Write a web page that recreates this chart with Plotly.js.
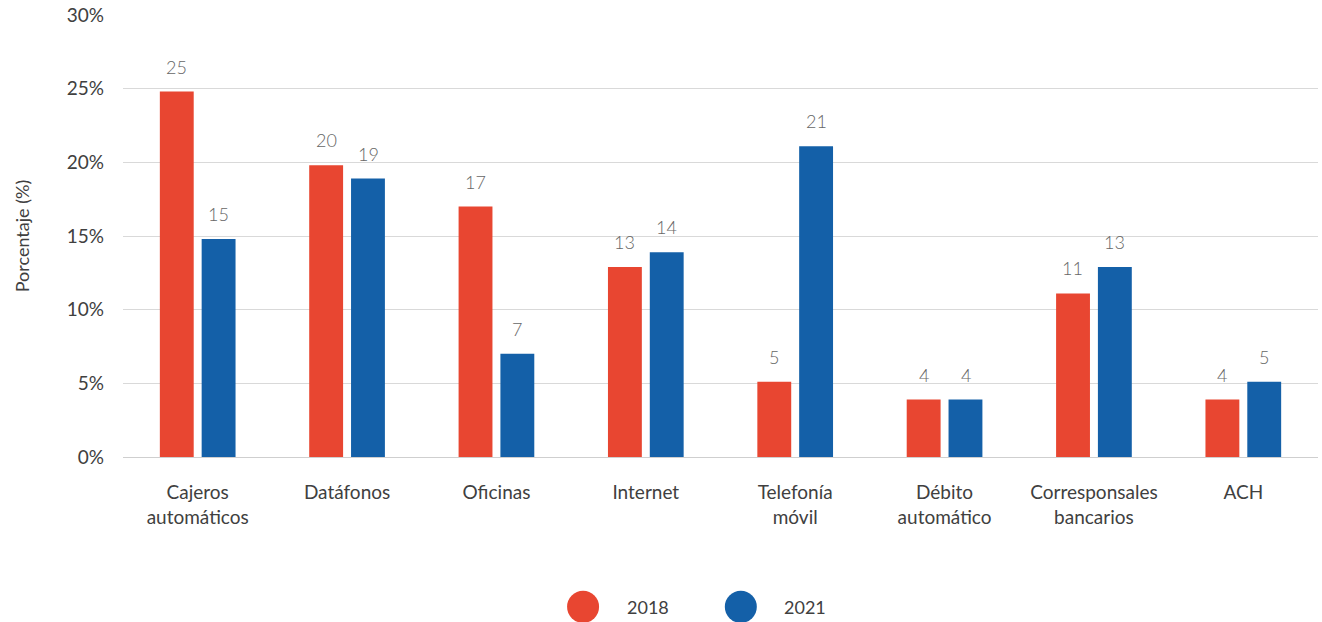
<!DOCTYPE html>
<html>
<head>
<meta charset="utf-8">
<script src="https://cdn.plot.ly/plotly-3.0.1.min.js"></script>
<style>html,body{margin:0;padding:0;background:#fff;}#chart{width:1322px;height:622px;}</style>
</head>
<body>
<div id="chart"></div>
<script>
const categories = ["Cajeros<br>automáticos","Datáfonos","Oficinas","Internet","Telefonía<br>móvil","Débito<br>automático","Corresponsales<br>bancarios","ACH"];
const series2018 = [24.8, 19.8, 17.0, 12.9, 5.1, 3.9, 11.1, 3.9];
const series2021 = [14.8, 18.9, 7.0, 13.9, 21.1, 3.9, 12.9, 5.1];
const labels2018 = ["25","20","17","13","5","4","11","4"];
const labels2021 = ["15","19","7","14","21","4","13","5"];
const seriesNames = ["2018","2021"];
const colors = ["#E84631","#1460A8"];

const FONT = "Lato, 'Source Sans Pro', sans-serif";

const traces = [
  {type:"bar", name:seriesNames[0], x:categories, y:series2018, marker:{color:colors[0]}, showlegend:false, hoverinfo:"x+y"},
  {type:"bar", name:seriesNames[1], x:categories, y:series2021, marker:{color:colors[1]}, showlegend:false, hoverinfo:"x+y"}
];

const annotations = [];
categories.forEach((c,i)=>{
  annotations.push({x:c, y:series2018[i], xref:"x", yref:"y", text:labels2018[i], showarrow:false,
    xshift:-21, yshift:25, yanchor:"middle", font:{family:FONT, size:18, color:"#666666", weight:300}});
  annotations.push({x:c, y:series2021[i], xref:"x", yref:"y", text:labels2021[i], showarrow:false,
    xshift:21, yshift:25, yanchor:"middle", font:{family:FONT, size:18, color:"#666666", weight:300}});
});
// legend entries
const legendX = [[0.385,0.439],[0.517,0.571]];
const shapes = [];
seriesNames.forEach((n,k)=>{
  shapes.push({type:"circle", xref:"paper", yref:"paper", xsizemode:"pixel", ysizemode:"pixel",
    xanchor:legendX[k][0], yanchor:-0.339, x0:-16, x1:16, y0:-16, y1:16,
    fillcolor:colors[k], line:{width:0}});
  annotations.push({x:legendX[k][1], y:-0.339, xref:"paper", yref:"paper", text:n, showarrow:false,
    xanchor:"center", yanchor:"middle", font:{family:FONT, size:18, color:"#404040"}});
});

const layout = {
  width:1322, height:622,
  margin:{l:123, r:4, t:15, b:165},
  paper_bgcolor:"#fff", plot_bgcolor:"#fff",
  font:{family:FONT, size:19, color:"#404040"},
  barmode:"group", bargap:0.44, bargroupgap:0.19,
  showlegend:false,
  xaxis:{type:"category", showgrid:false, showline:true, linecolor:"#cfcfcf", linewidth:1,
    ticks:"", tickfont:{family:FONT, size:19, color:"#404040"}, ticklabelstandoff:18, fixedrange:true},
  yaxis:{range:[0,30], dtick:5, ticksuffix:"%", showgrid:true, gridcolor:"#d9d9d9", gridwidth:1,
    zeroline:false, showline:false, ticks:"", tickfont:{family:FONT, size:19, color:"#404040"},
    ticklabelstandoff:18,
    title:{text:"Porcentaje (%)", font:{family:FONT, size:18, color:"#404040"}, standoff:32}, fixedrange:true},
  annotations:annotations,
  shapes:shapes
};

Plotly.newPlot("chart", traces, layout, {displayModeBar:false, staticPlot:true});
</script>
</body>
</html>
